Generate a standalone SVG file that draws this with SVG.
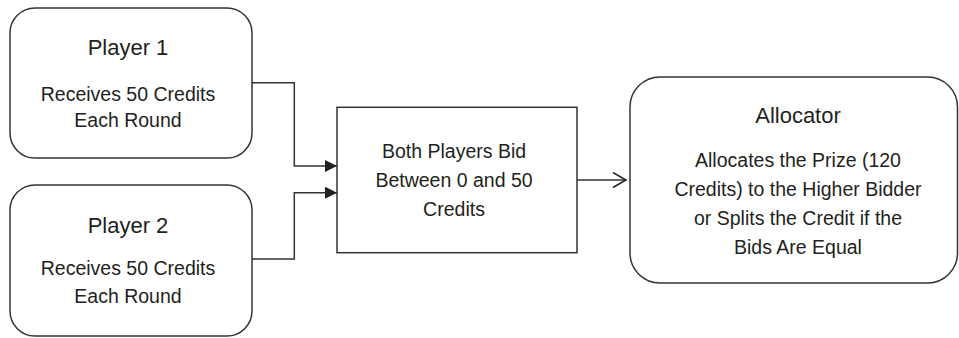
<svg xmlns="http://www.w3.org/2000/svg" width="959" height="338" viewBox="0 0 959 338">
<defs>
<style>
.box{fill:#fff;stroke:#333;stroke-width:1.5}
.t{font-family:"Liberation Sans",Arial,sans-serif;fill:#231f20;text-anchor:middle}
.h{font-size:22px}
.b{font-size:19.5px}
.c{fill:none;stroke:#333;stroke-width:1.5}
</style>
<marker id="tri" markerWidth="12" markerHeight="12" refX="12" refY="6" orient="auto" markerUnits="userSpaceOnUse">
<path d="M0,0 L12,6 L0,12 Z" fill="#231f20"/>
</marker>
<marker id="open" markerWidth="16" markerHeight="18" refX="14" refY="8" orient="auto" markerUnits="userSpaceOnUse">
<path d="M1,0.5 L14,8 L1,15.5" fill="none" stroke="#231f20" stroke-width="1.5"/>
</marker>
</defs>
<rect width="959" height="338" fill="#fff"/>
<g id="connectors">
<path class="c" d="M252,82.7 H294.3 V166 H337" marker-end="url(#tri)"/>
<path class="c" d="M252,259 H294.3 V192.7 H337" marker-end="url(#tri)"/>
<path class="c" d="M577,180 H626" marker-end="url(#open)"/>
</g>
<g id="player1">
<rect class="box" x="10" y="8" width="242" height="150" rx="25" ry="25"/>
<text class="t h" x="128" y="55">Player 1</text>
<text class="t b" x="128" y="101">Receives 50 Credits</text>
<text class="t b" x="128" y="127">Each Round</text>
</g>
<g id="player2">
<rect class="box" x="10" y="185" width="242" height="151" rx="25" ry="25"/>
<text class="t h" x="128" y="233">Player 2</text>
<text class="t b" x="128" y="275">Receives 50 Credits</text>
<text class="t b" x="128" y="303">Each Round</text>
</g>
<g id="bid">
<rect class="box" x="337" y="107.3" width="240" height="145.4"/>
<text class="t b" x="454" y="158">Both Players Bid</text>
<text class="t b" x="454" y="187">Between 0 and 50</text>
<text class="t b" x="454" y="215.5">Credits</text>
</g>
<g id="allocator">
<rect class="box" x="630" y="77" width="327.5" height="206" rx="30" ry="30"/>
<text class="t h" x="798" y="123">Allocator</text>
<text class="t b" x="798" y="167">Allocates the Prize (120</text>
<text class="t b" x="798" y="196">Credits) to the Higher Bidder</text>
<text class="t b" x="798" y="225">or Splits the Credit if the</text>
<text class="t b" x="798" y="254">Bids Are Equal</text>
</g>
</svg>
